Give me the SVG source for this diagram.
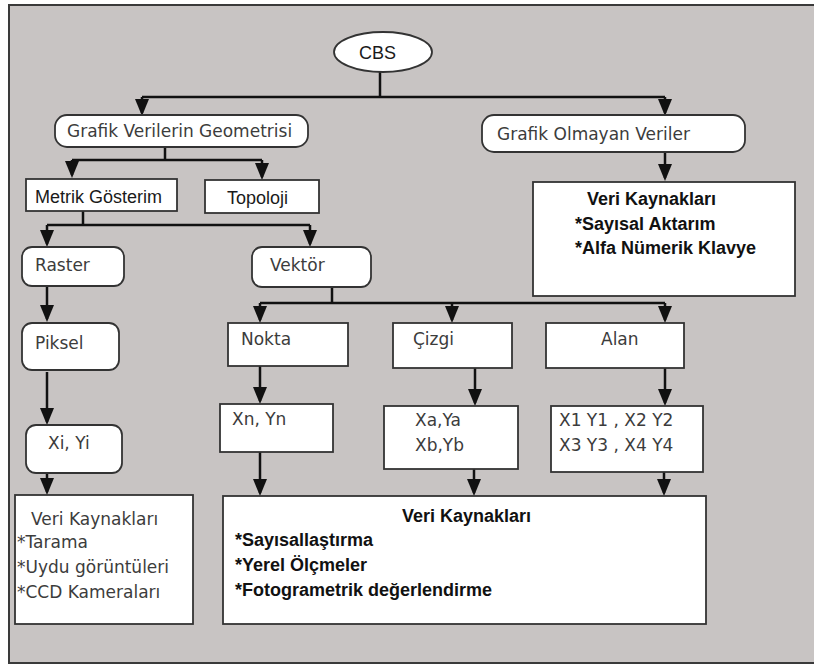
<svg xmlns="http://www.w3.org/2000/svg" width="814" height="666" viewBox="0 0 814 666">
<defs>
<style>
.bg{fill:#c8c4c3;stroke:#3a3a3a;stroke-width:2}
.box{fill:#ffffff;stroke:#333333;stroke-width:1.8}
.g{font-family:"DejaVu Sans",sans-serif;font-size:17px;fill:#3c3c3c}
.b{font-family:"Liberation Sans",Arial,sans-serif;font-size:18px;font-weight:bold;fill:#111111}
.m{font-family:"Liberation Sans",Arial,sans-serif;font-size:18px;fill:#1a1a1a}
.c{fill:none;stroke:#111111;stroke-width:2.5}
</style>
<marker id="ah" viewBox="0 0 17 14" refX="14" refY="7" markerWidth="17" markerHeight="14" markerUnits="userSpaceOnUse" orient="auto">
<path d="M0,0 L17,7 L0,14 Z" fill="#111111"/>
</marker>
</defs>
<rect class="bg" x="9" y="5" width="812" height="658"/>

<g id="connectors">
<path class="c" d="M380,72 V97"/>
<path class="c" d="M142,97 H665"/>
<path class="c" d="M142,97 V113" marker-end="url(#ah)"/>
<path class="c" d="M665,97 V113" marker-end="url(#ah)"/>
<path class="c" d="M165,147 V160 M72,160 H262"/>
<path class="c" d="M72,160 V175" marker-end="url(#ah)"/>
<path class="c" d="M262,160 V177" marker-end="url(#ah)"/>
<path class="c" d="M665,145 V178" marker-end="url(#ah)"/>
<path class="c" d="M83,211 V225 M47,225 H310"/>
<path class="c" d="M47,225 V244" marker-end="url(#ah)"/>
<path class="c" d="M310,225 V244" marker-end="url(#ah)"/>
<path class="c" d="M47,286 V319" marker-end="url(#ah)"/>
<path class="c" d="M47,372 V422" marker-end="url(#ah)"/>
<path class="c" d="M47,473 V492" marker-end="url(#ah)"/>
<path class="c" d="M332,287 V303 M260,303 H665"/>
<path class="c" d="M260,303 V320" marker-end="url(#ah)"/>
<path class="c" d="M452,303 V320" marker-end="url(#ah)"/>
<path class="c" d="M665,303 V320" marker-end="url(#ah)"/>
<path class="c" d="M260,366 V401" marker-end="url(#ah)"/>
<path class="c" d="M475,368 V403" marker-end="url(#ah)"/>
<path class="c" d="M665,368 V403" marker-end="url(#ah)"/>
<path class="c" d="M260,452 V493" marker-end="url(#ah)"/>
<path class="c" d="M474,469 V493" marker-end="url(#ah)"/>
<path class="c" d="M664,472 V493" marker-end="url(#ah)"/>
</g>

<g id="cbs">
<ellipse class="box" cx="383" cy="52" rx="49" ry="20"/>
<text class="m" x="359" y="59">CBS</text>
</g>
<g id="grafik-verilerin">
<rect class="box" x="55" y="115" width="253" height="32" rx="12"/>
<text class="g" x="67" y="137">Grafik Verilerin Geometrisi</text>
</g>
<g id="grafik-olmayan">
<rect class="box" x="482" y="115" width="263" height="37" rx="12"/>
<text class="g" x="497" y="140">Grafik Olmayan Veriler</text>
</g>
<g id="veri-kaynaklari-sag">
<rect class="box" x="533" y="182" width="262" height="114"/>
<text class="b" x="587" y="205">Veri Kaynakları</text>
<text class="b" x="575" y="230">*Sayısal Aktarım</text>
<text class="b" x="575" y="254">*Alfa Nümerik Klavye</text>
</g>
<g id="metrik">
<rect class="box" x="26" y="179" width="151" height="32"/>
<text class="m" x="35" y="203">Metrik Gösterim</text>
</g>
<g id="topoloji">
<rect class="box" x="205" y="180" width="114" height="33"/>
<text class="m" x="227" y="204">Topoloji</text>
</g>
<g id="raster">
<rect class="box" x="22" y="247" width="102" height="39" rx="10"/>
<text class="g" x="35" y="271">Raster</text>
</g>
<g id="vektor">
<rect class="box" x="252" y="247" width="119" height="40" rx="10"/>
<text class="g" x="270" y="271">Vektör</text>
</g>
<g id="piksel">
<rect class="box" x="22" y="323" width="97" height="47" rx="10"/>
<text class="g" x="35" y="349">Piksel</text>
</g>
<g id="xi-yi">
<rect class="box" x="26" y="425" width="96" height="48" rx="10"/>
<text class="g" x="48" y="449">Xi, Yi</text>
</g>
<g id="nokta">
<rect class="box" x="228" y="323" width="120" height="43"/>
<text class="g" x="241" y="345">Nokta</text>
</g>
<g id="cizgi">
<rect class="box" x="393" y="323" width="119" height="45"/>
<text class="g" x="413" y="345">Çizgi</text>
</g>
<g id="alan">
<rect class="box" x="546" y="323" width="138" height="45"/>
<text class="g" x="601" y="345">Alan</text>
</g>
<g id="xn-yn">
<rect class="box" x="220" y="404" width="113" height="48"/>
<text class="g" x="232" y="425">Xn, Yn</text>
</g>
<g id="xa-ya">
<rect class="box" x="384" y="406" width="134" height="63"/>
<text class="g" x="415" y="426">Xa,Ya</text>
<text class="g" x="415" y="451">Xb,Yb</text>
</g>
<g id="x1-y1">
<rect class="box" x="551" y="406" width="152" height="66"/>
<text class="g" x="559" y="426" xml:space="preserve">X1 Y1 , X2 Y2</text>
<text class="g" x="559" y="451" xml:space="preserve">X3 Y3 , X4 Y4</text>
</g>
<g id="veri-kaynaklari-sol">
<rect class="box" x="15" y="495" width="178" height="129"/>
<text class="g" x="31" y="525">Veri Kaynakları</text>
<text class="g" x="17" y="548">*Tarama</text>
<text class="g" x="17" y="573">*Uydu görüntüleri</text>
<text class="g" x="17" y="598">*CCD Kameraları</text>
</g>
<g id="veri-kaynaklari-orta">
<rect class="box" x="223" y="496" width="483" height="128"/>
<text class="b" x="402" y="522">Veri Kaynakları</text>
<text class="b" x="235" y="546">*Sayısallaştırma</text>
<text class="b" x="235" y="571">*Yerel Ölçmeler</text>
<text class="b" x="235" y="596">*Fotogrametrik değerlendirme</text>
</g>
</svg>
